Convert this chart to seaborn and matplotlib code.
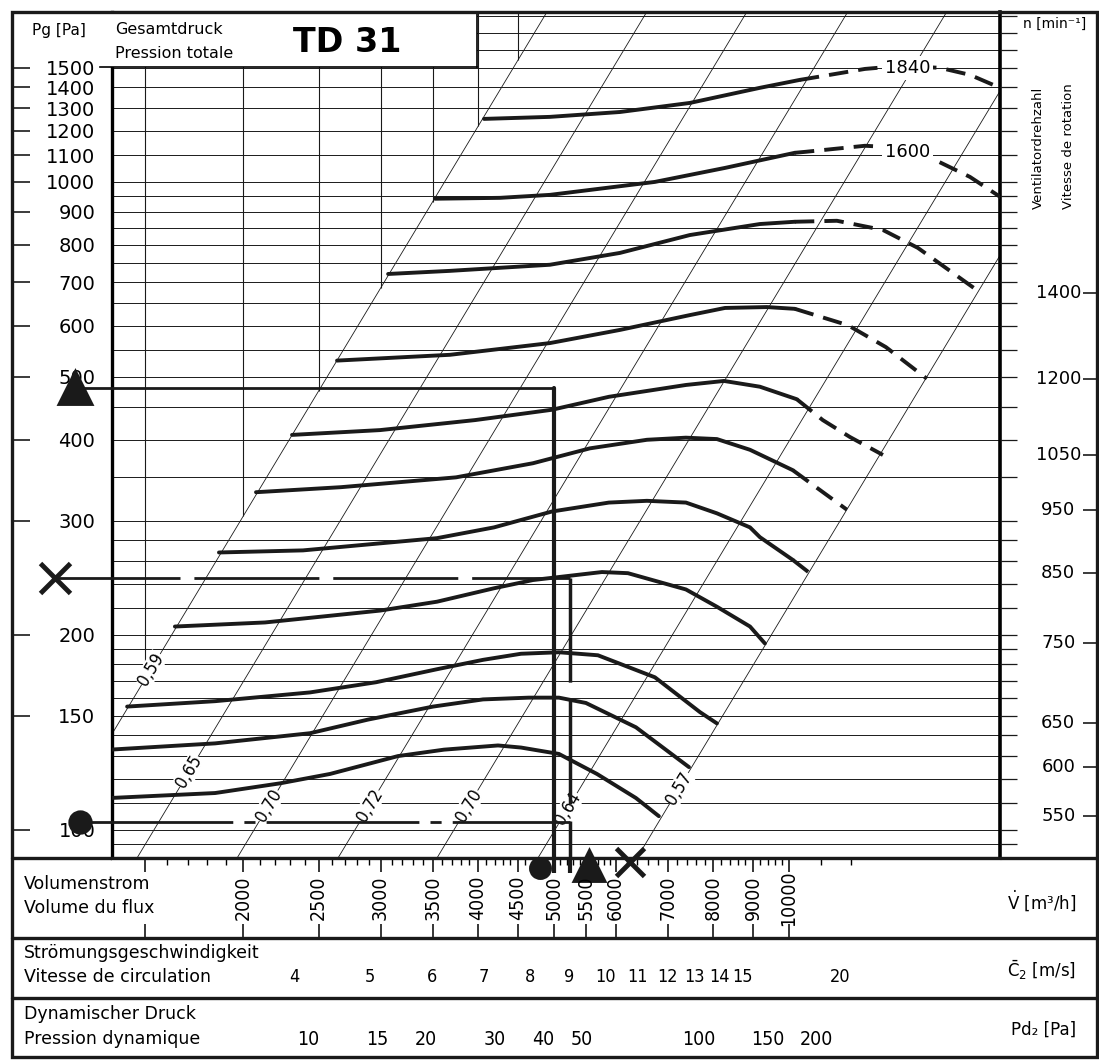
import numpy as np
import matplotlib.pyplot as plt
from matplotlib.lines import Line2D
from matplotlib.patches import Rectangle
import seaborn as sns

W, H = 1099, 1061

# --- fan curves TD 31 (flow V in m3/h, total pressure Pg in Pa) ---
SPEEDS = [550, 600, 650, 750, 850, 950, 1050, 1200, 1400, 1600, 1840]

V_550 = [1351, 1842, 2231, 2585, 3159, 3618, 4242, 4540, 5077, 5680, 6372, 6818]
P_550 = [112, 114, 118, 122, 130, 133, 135, 134, 131, 122, 112, 105]
V_600 = [1351, 1842, 2437, 2892, 3503, 4059, 4648, 5077, 5498, 6372, 7451]
P_600 = [133, 136, 141, 148, 155, 159, 160, 160, 157, 144, 125]
V_650 = [1421, 1842, 2437, 2961, 3544, 4059, 4540, 5077, 5696, 6738, 7695, 8091]
P_650 = [155, 158, 163, 169, 177, 183, 187, 188, 186, 172, 152, 146]
V_750 = [1636, 2134, 2996, 3544, 4193, 4703, 5764, 6223, 7384, 8091, 8920, 9320]
P_750 = [206, 209, 218, 225, 236, 243, 250, 249, 235, 221, 206, 194]
V_850 = [1863, 2387, 3544, 4193, 4973, 5884, 6582, 7384, 8091, 8920, 9184, 10121, 10642]
P_850 = [268, 270, 282, 293, 310, 320, 322, 320, 308, 293, 283, 261, 249]
V_950 = [2078, 2670, 3748, 4703, 5563, 6582, 7384, 8091, 8920, 10121, 11871]
P_950 = [332, 338, 350, 368, 388, 400, 403, 401, 386, 359, 312]
V_1050 = [2311, 2996, 3965, 4973, 5884, 7384, 8261, 9184, 10240, 11055, 11975, 13201]
P_1050 = [407, 414, 429, 445, 466, 486, 493, 483, 462, 429, 404, 379]
V_1200 = [2639, 3682, 4944, 6078, 7471, 8286, 9374, 10181, 11906, 13317, 15027]
P_1200 = [530, 541, 564, 591, 623, 639, 641, 637, 601, 556, 497]
V_1400 = [3068, 3682, 4268, 4944, 6078, 7471, 9184, 10181, 11527, 13201, 14634, 17621]
P_1400 = [721, 729, 737, 745, 777, 828, 861, 868, 871, 843, 791, 674]
V_1600 = [3523, 4268, 4944, 6738, 8286, 10181, 10518, 12517, 13877, 15570, 17062, 18911]
P_1600 = [942, 945, 955, 1000, 1051, 1109, 1113, 1137, 1130, 1074, 1018, 938]
V_1840 = [4071, 4944, 6078, 7471, 9184, 10333, 10518, 12517, 13877, 15612, 17062, 18911]
P_1840 = [1251, 1260, 1282, 1324, 1397, 1437, 1442, 1494, 1510, 1500, 1463, 1387]

CURVE_V = [V_550, V_600, V_650, V_750, V_850, V_950, V_1050, V_1200, V_1400, V_1600, V_1840]
CURVE_P = [P_550, P_600, P_650, P_750, P_850, P_950, P_1050, P_1200, P_1400, P_1600, P_1840]
DASH_FROM = 10350  # curves are dashed beyond this flow

# efficiency (system) lines: flow where each line crosses 100 Pa
EFF_LABELS = ["0,59", "0,65", "0,70", "0,72", "0,70", "0,64", "0,57"]
EFF_V100 = [1146, 1538, 2066, 2782, 3725, 5017, 6718]
EFF_LABEL_P = [177, 123, 109, 109, 109, 108, 116]

# axes scales
P_MAJOR = [100, 150, 200, 300, 400, 500, 600, 700, 800, 900, 1000, 1100, 1200, 1300, 1400, 1500]
P_GRID = ([95] + list(range(100, 200, 10)) + list(range(200, 300, 20))
          + list(range(300, 1000, 50)) + list(range(1000, 1900, 100)))
V_GRID = [1500, 2000, 2500, 3000, 3500, 4000, 4500, 5000, 5500, 6000, 7000, 8000, 9000, 10000]
V_LABELS = [2000, 2500, 3000, 3500, 4000, 4500, 5000, 5500, 6000, 7000, 8000, 9000, 10000]
C_LABELS = [4, 5, 6, 7, 8, 9, 10, 11, 12, 13, 14, 15, 20]
PD_LABELS = [10, 15, 20, 30, 40, 50, 100, 150, 200]

V_MIN, V_MAX = 1359, 18645
P_MIN, P_MAX = 90.5, 1829
K_FLOW = 582.0   # m3/h per m/s of outlet velocity
RHO = 1.15

# operating points: triangle, cross, dot
OP_MARK = ["^", "x", "o"]
OP_P = [481, 245, 103]
OP_V = [5000, 5250, 5250]
OP_V_LEFT = [1219, 1149, 1237]
OP_V_SCALE = [5541, 6260, 4798]


def fx(px):
    return px / W


def fy(py):
    return 1 - py / H


def box(x0, y0, x1, y1):
    return [fx(x0), fy(y1), (x1 - x0) / W, (y1 - y0) / H]


sns.set_theme(style="white", rc={"axes.edgecolor": "black", "text.color": "black",
                                 "xtick.color": "black", "ytick.color": "black"})
plt.rcParams["font.family"] = ["DejaVu Sans"]
NARROW = dict(family=["DejaVu Sans"], fontstretch="condensed")

fig = plt.figure(figsize=(W / 100, H / 100), dpi=100, facecolor="white")

# --- main diagram ---
ax = fig.add_axes(box(112, 12, 1000, 858))
ax.set_xscale("log")
ax.set_yscale("log")
ax.set_xlim(V_MIN, V_MAX)
ax.set_ylim(P_MIN, P_MAX)

ax.hlines(P_GRID, 0, 1, transform=ax.get_yaxis_transform(), color="k", lw=0.7, zorder=1)
v_grid = np.array(V_GRID, dtype=float)
ax.vlines(v_grid, np.maximum(100 * (v_grid / EFF_V100[0]) ** 2, P_MIN), P_MAX,
          color="k", lw=0.8, zorder=1)

vv = np.array([V_MIN, V_MAX])
for v100 in EFF_V100:
    ax.plot(vv, 100 * (vv / v100) ** 2, color="k", lw=0.6, zorder=2)
for lab, v100, p in zip(EFF_LABELS, EFF_V100, EFF_LABEL_P):
    ax.text(v100 * np.sqrt(p / 100), p, lab, rotation=59, ha="center", va="center",
            fontsize=12.5, zorder=4, bbox=dict(fc="white", ec="none", pad=0.3), **NARROW)

for n, vs, ps in zip(SPEEDS, CURVE_V, CURVE_P):
    vs = np.array(vs)
    ps = np.array(ps)
    k = int((vs <= DASH_FROM).sum())
    sns.lineplot(x=vs[:k], y=ps[:k], ax=ax, color="k", lw=2.8, sort=False,
                 estimator=None, zorder=5)
    if k < len(vs):
        sns.lineplot(x=vs[k - 1:], y=ps[k - 1:], ax=ax, color="k", lw=2.8, sort=False,
                     estimator=None, linestyle=(0, (5, 2.6)), zorder=5)

for lab, v, p in [("1840", 14200, 1500), ("1600", 14200, 1113)]:
    ax.text(v, p, lab, ha="center", va="center", fontsize=13, zorder=6,
            bbox=dict(fc="white", ec="none", pad=2))

# operating point constructions
ax.plot([OP_V_LEFT[0], OP_V[0]], [OP_P[0]] * 2, color="k", lw=2, clip_on=False, zorder=6)
ax.plot([OP_V[0]] * 2, [OP_P[0], P_MIN], color="k", lw=3, zorder=6)
ax.plot([OP_V_LEFT[1], OP_V[1]], [OP_P[1]] * 2, color="k", lw=2, ls=(0, (45, 5)),
        clip_on=False, zorder=6)
ax.plot([OP_V[1]] * 2, [OP_P[1], P_MIN], color="k", lw=2.5, ls=(0, (30, 5)), zorder=6)
ax.plot([OP_V_LEFT[2], OP_V[2]], [OP_P[2]] * 2, color="k", lw=2, ls=(0, (55, 4, 4, 4)),
        clip_on=False, zorder=6)
for m, v, p in zip(OP_MARK, OP_V_LEFT, OP_P):
    ax.plot(v, p, marker=m, ms=22 if m != "o" else 14, mew=3.5, color="k",
            clip_on=False, zorder=7)

ax.set_xticks([])
ax.set_xticks([], minor=True)
ax.set_yticks(P_MAJOR)
ax.set_yticklabels([str(p) for p in P_MAJOR], fontsize=14)
ax.set_yticks([p for p in P_GRID if p not in P_MAJOR], minor=True)
ax.set_yticklabels([], minor=True)
ax.tick_params(axis="y", which="major", direction="out", length=9, width=1.2, pad=3)
ax.tick_params(axis="y", which="minor", direction="out", length=4, width=1)
ax.hlines(P_MAJOR, -0.110, -0.092, transform=ax.get_yaxis_transform(), color="k",
          lw=1.2, clip_on=False)
ax.set_xlabel("")
ax.set_ylabel("")
ax.spines["left"].set_linewidth(2.4)
ax.spines["right"].set_linewidth(2.6)
ax.spines["top"].set_linewidth(2.2)
ax.spines["bottom"].set_linewidth(2.2)

# --- speed column on the right ---
ax_n = fig.add_axes(box(1000, 12, 1097, 858), sharey=ax)
ax_n.set_axis_off()
ax_n.set_xlim(0, 1)
end_p = [ps[-1] for ps in CURVE_P[:-2]]
ax_n.hlines(P_GRID, 0, 0.18, transform=ax_n.get_yaxis_transform(), color="k", lw=0.9)
ax_n.hlines(end_p, 0.86, 1.0, transform=ax_n.get_yaxis_transform(), color="k", lw=1.2)
for n, p in zip(SPEEDS[:-2], end_p):
    ax_n.text(0.6, p, str(n), transform=ax_n.get_yaxis_transform(), ha="center",
              va="center", fontsize=13)
fig.text(fx(1055), fy(24), "n [min⁻¹]", ha="center", va="center", fontsize=10)
fig.text(fx(1038), fy(148), "Ventilatordrehzahl", rotation=90, ha="center", va="center",
         fontsize=9.5)
fig.text(fx(1068), fy(146), "Vitesse de rotation", rotation=90, ha="center", va="center",
         fontsize=9.5)

# --- title box ---
tb = fig.add_axes(box(100, 12, 477, 67), zorder=10)
tb.set_xticks([])
tb.set_yticks([])
tb.set_facecolor("white")
tb.spines["left"].set_visible(False)
tb.spines["top"].set_visible(False)
tb.spines["right"].set_linewidth(1.2)
tb.spines["bottom"].set_linewidth(1.2)
tb.text(fx(32), fy(30), "Pg [Pa]", transform=fig.transFigure, va="center", fontsize=11)
tb.text(fx(115), fy(30), "Gesamtdruck", transform=fig.transFigure, va="center", fontsize=11.5)
tb.text(fx(115), fy(54), "Pression totale", transform=fig.transFigure, va="center",
        fontsize=11.5)
tb.text(fx(347), fy(43), "TD 31", transform=fig.transFigure, ha="center", va="center",
        fontsize=24, fontweight="bold")

# --- flow scale ---
ax_f = fig.add_axes(box(112, 858, 1000, 938))
ax_f.set_xscale("log")
ax_f.set_xlim(V_MIN, V_MAX)
ax_f.set_ylim(0, 1)
for s in ax_f.spines.values():
    s.set_visible(False)
ax_f.set_yticks([])
ax_f.set_xticks([1500] + V_LABELS)
ax_f.set_xticks(list(range(1500, 6000, 100)) + list(range(6000, 10001, 200)) + [11000, 12000],
                minor=True)
ax_f.tick_params(axis="x", which="major", direction="in", length=10, width=1.1,
                 bottom=True, top=True, labelbottom=False)
ax_f.tick_params(axis="x", which="minor", direction="in", length=5, width=1,
                 bottom=False, top=True, labelbottom=False)
for v in V_LABELS:
    ax_f.text(v, 0.5, str(v), rotation=90, ha="center", va="center", fontsize=14,
              transform=ax_f.get_xaxis_transform(), **NARROW)
ax_f.vlines(OP_V[:2], 0.81, 1.0, transform=ax_f.get_xaxis_transform(), color="k", lw=3)
for m, v, y in zip(OP_MARK, OP_V_SCALE, [0.9, 0.95, 0.87]):
    ax_f.plot(v, y, marker=m, ms=20 if m != "o" else 13, mew=3.5, color="k",
              transform=ax_f.get_xaxis_transform(), clip_on=False)

# --- velocity scale ---
ax_c = fig.add_axes(box(112, 938, 1000, 998))
ax_c.set_xscale("log")
ax_c.set_xlim(V_MIN / K_FLOW, V_MAX / K_FLOW)
for s in ax_c.spines.values():
    s.set_visible(False)
ax_c.set_yticks([])
ax_c.set_xticks(C_LABELS)
ax_c.set_xticks(list(np.arange(3, 15.01, 0.5)) + [16, 17, 18, 19], minor=True)
ax_c.tick_params(axis="x", which="major", direction="in", length=9, width=1.1,
                 labelbottom=False)
ax_c.tick_params(axis="x", which="minor", direction="in", length=5, width=1,
                 labelbottom=False)
for c in C_LABELS:
    ax_c.text(c, 0.35, str(c), ha="center", va="center", fontsize=13,
              transform=ax_c.get_xaxis_transform(), **NARROW)

# --- dynamic pressure scale ---
ax_p = fig.add_axes(box(112, 998, 1000, 1057))
ax_p.set_xscale("log")
ax_p.set_xlim(0.5 * RHO * (V_MIN / K_FLOW) ** 2, 0.5 * RHO * (V_MAX / K_FLOW) ** 2)
for s in ax_p.spines.values():
    s.set_visible(False)
ax_p.set_yticks([])
ax_p.set_xticks(PD_LABELS)
ax_p.set_xticks(list(np.arange(5, 10, 0.5)) + list(range(10, 20)) + list(range(20, 50, 2))
                + list(range(50, 100, 5)) + list(range(100, 201, 10)), minor=True)
ax_p.tick_params(axis="x", which="major", direction="in", length=9, width=1.1,
                 labelbottom=False)
ax_p.tick_params(axis="x", which="minor", direction="in", length=5, width=1,
                 labelbottom=False)
for p in PD_LABELS:
    ax_p.text(p, 0.3, str(p), ha="center", va="center", fontsize=14,
              transform=ax_p.get_xaxis_transform(), **NARROW)

# --- panel captions ---
for txt, y in [("Volumenstrom", 884), ("Volume du flux", 908),
               ("Strömungsgeschwindigkeit", 953), ("Vitesse de circulation", 977),
               ("Dynamischer Druck", 1014), ("Pression dynamique", 1039)]:
    fig.text(fx(24), fy(y), txt, va="center", fontsize=12.5)
for txt, y in [(r"$\dot{\mathrm{V}}$ [m³/h]", 901), (r"$\bar{\mathrm{C}}_2$ [m/s]", 970),
               ("Pd₂ [Pa]", 1030)]:
    fig.text(fx(1076), fy(y), txt, ha="right", va="center", fontsize=12)

# --- frame and separators ---
fig.add_artist(Rectangle((fx(12), fy(1057)), (1097 - 12) / W, (1057 - 12) / H, fill=False,
                         lw=2.4, ec="k", transform=fig.transFigure, zorder=20))
for y in [858, 938, 998]:
    fig.add_artist(Line2D([fx(12), fx(1097)], [fy(y), fy(y)], color="k", lw=2.4,
                          transform=fig.transFigure, zorder=20))

fig.savefig("out.png", dpi=100, facecolor="white")
